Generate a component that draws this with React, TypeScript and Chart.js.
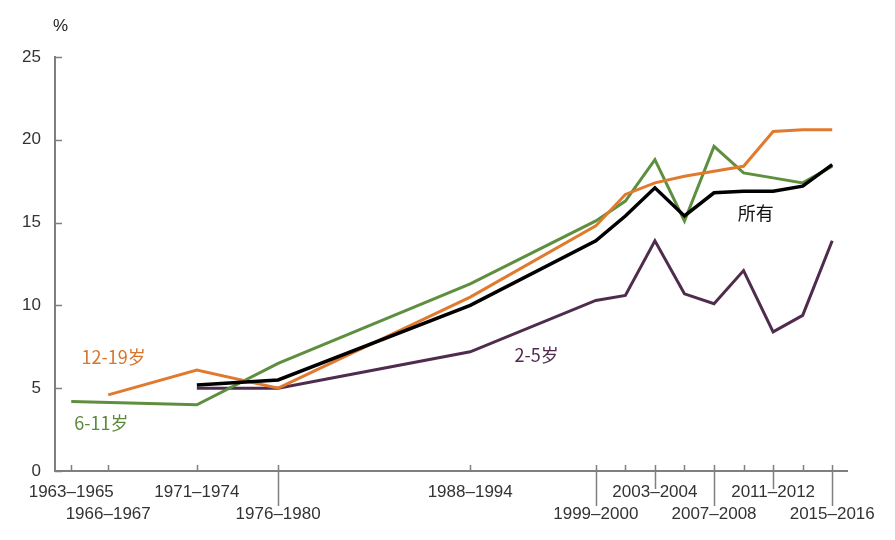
import React, { useEffect, useRef } from "react";
import { Chart, registerables } from "chart.js";

Chart.register(...registerables);

// Survey periods (midpoint year) and labels
const periodMid = [1964, 1966.5, 1972.5, 1978, 1991, 1999.5, 2001.5, 2003.5, 2005.5, 2007.5, 2009.5, 2011.5, 2013.5, 2015.5];
const periodLabels = ["1963–1965", "1966–1967", "1971–1974", "1976–1980", "1988–1994", "1999–2000", "", "2003–2004", "", "2007–2008", "", "2011–2012", "", "2015–2016"];
// 0 = no label, 1 = upper row, 2 = lower row
const labelRow = [1, 2, 1, 2, 1, 2, 0, 1, 0, 2, 0, 1, 0, 2];
// leader line below axis: 0 none, 1 short, 2 long
const leader = [0, 0, 0, 2, 0, 2, 0, 1, 0, 2, 0, 1, 0, 2];

// Series (prevalence of obesity, %)
const allX = [1972.5, 1978, 1991, 1999.5, 2001.5, 2003.5, 2005.5, 2007.5, 2009.5, 2011.5, 2013.5, 2015.5];
const allValues = [5.2, 5.5, 10.0, 13.9, 15.4, 17.1, 15.4, 16.8, 16.9, 16.9, 17.2, 18.5];

const age2to5X = [1972.5, 1978, 1991, 1999.5, 2001.5, 2003.5, 2005.5, 2007.5, 2009.5, 2011.5, 2013.5, 2015.5];
const age2to5Values = [5.0, 5.0, 7.2, 10.3, 10.6, 13.9, 10.7, 10.1, 12.1, 8.4, 9.4, 13.9];

const age6to11X = [1964, 1972.5, 1978, 1991, 1999.5, 2001.5, 2003.5, 2005.5, 2007.5, 2009.5, 2011.5, 2013.5, 2015.5];
const age6to11Values = [4.2, 4.0, 6.5, 11.3, 15.1, 16.3, 18.8, 15.1, 19.6, 18.0, 17.7, 17.4, 18.4];

const age12to19X = [1966.5, 1972.5, 1978, 1991, 1999.5, 2001.5, 2003.5, 2005.5, 2007.5, 2009.5, 2011.5, 2013.5, 2015.5];
const age12to19Values = [4.6, 6.1, 5.0, 10.5, 14.8, 16.7, 17.4, 17.8, 18.1, 18.4, 20.5, 20.6, 20.6];

const yTicks = [0, 5, 10, 15, 20, 25];

// Direct series labels: [text, year, value, color]
const seriesLabels: [string, number, number, string][] = [
  ["12-19岁", 1964.7, 6.9, "#d9742b"],
  ["6-11岁", 1964.2, 2.9, "#5b8a3a"],
  ["2-5岁", 1994.0, 7.0, "#4f2b4d"],
  ["所有", 2009.1, 15.6, "#111111"],
];

const COLORS = {
  all: "#000000",
  a12: "#e07a2e",
  a6: "#5e8f3e",
  a2: "#4f2b4d",
  axis: "#7f7f7f",
  text: "#333333",
};

const toPts = (xs: number[], ys: number[]) => xs.map((x, i) => ({ x, y: ys[i] }));

export default function App() {
  const ref = useRef<HTMLCanvasElement | null>(null);

  useEffect(() => {
    if (!ref.current) return;

    const decor = {
      id: "decor",
      afterDraw(chart: any) {
        const { ctx, chartArea, scales } = chart;
        const xs = scales.x;
        const ys = scales.y;
        ctx.save();
        ctx.strokeStyle = COLORS.axis;
        ctx.lineWidth = 1.5;
        // x ticks (inward) and leader lines
        periodMid.forEach((v, i) => {
          const px = Math.round(xs.getPixelForValue(v)) + 0.5;
          ctx.beginPath();
          ctx.moveTo(px, chartArea.bottom);
          ctx.lineTo(px, chartArea.bottom - 6);
          ctx.stroke();
          const ext = leader[i] === 2 ? 35 : leader[i] === 1 ? 18 : 0;
          if (ext) {
            ctx.beginPath();
            ctx.moveTo(px, chartArea.bottom);
            ctx.lineTo(px, chartArea.bottom + ext);
            ctx.stroke();
          }
        });
        // y ticks (inward)
        yTicks.forEach((v) => {
          const py = Math.round(ys.getPixelForValue(v)) + 0.5;
          ctx.beginPath();
          ctx.moveTo(chartArea.left, py);
          ctx.lineTo(chartArea.left + 7, py);
          ctx.stroke();
        });
        // unit
        ctx.fillStyle = "#222";
        ctx.font = "17px 'Liberation Sans', Arial, sans-serif";
        ctx.textAlign = "left";
        ctx.textBaseline = "middle";
        ctx.fillText("%", chartArea.left - 2, 26);
        // series labels
        ctx.font = "18px 'Noto Sans CJK SC', sans-serif";
        seriesLabels.forEach(([t, x, y, c]) => {
          ctx.fillStyle = c;
          ctx.fillText(t, xs.getPixelForValue(x), ys.getPixelForValue(y));
        });
        ctx.restore();
      },
    };

    const chart = new Chart(ref.current, {
      type: "line",
      data: {
        datasets: [
          { label: "所有", data: toPts(allX, allValues), borderColor: COLORS.all, borderWidth: 3.5 },
          { label: "12-19岁", data: toPts(age12to19X, age12to19Values), borderColor: COLORS.a12, borderWidth: 3 },
          { label: "6-11岁", data: toPts(age6to11X, age6to11Values), borderColor: COLORS.a6, borderWidth: 3 },
          { label: "2-5岁", data: toPts(age2to5X, age2to5Values), borderColor: COLORS.a2, borderWidth: 3 },
        ],
      },
      options: {
        animation: false,
        responsive: false,
        elements: { point: { radius: 0 }, line: { tension: 0, fill: false } },
        layout: { padding: { top: 57, right: 48, left: 0, bottom: 0 } },
        plugins: { legend: { display: false }, tooltip: { enabled: false } },
        scales: {
          x: {
            type: "linear",
            min: 1962.9,
            max: 2016.5,
            afterBuildTicks: (scale: any) => {
              scale.ticks = periodMid.map((v) => ({ value: v }));
            },
            afterFit: (scale: any) => {
              scale.height = 69;
            },
            grid: { display: false, drawTicks: false },
            border: { display: true, color: COLORS.axis, width: 2 },
            ticks: {
              autoSkip: false,
              maxRotation: 0,
              minRotation: 0,
              padding: 10,
              color: COLORS.text,
              font: { family: "'Liberation Sans', Arial, sans-serif", size: 17, lineHeight: 1.3 },
              callback: (_v: any, i: number) => {
                const l = periodLabels[i];
                if (labelRow[i] === 2) return ["", l];
                return l;
              },
            },
          },
          y: {
            min: 0,
            max: 25,
            afterBuildTicks: (scale: any) => {
              scale.ticks = yTicks.map((v) => ({ value: v }));
            },
            afterFit: (scale: any) => {
              scale.width = 55;
            },
            grid: { display: false, drawTicks: false },
            border: { display: true, color: COLORS.axis, width: 2 },
            ticks: {
              padding: 14,
              color: COLORS.text,
              font: { family: "'Liberation Sans', Arial, sans-serif", size: 17 },
            },
          },
        },
      },
      plugins: [decor],
    } as any);

    return () => chart.destroy();
  }, []);

  return (
    <div style={{ position: "fixed", left: 0, top: 0, width: 895, height: 540, background: "#fff" }}>
      <canvas ref={ref} width={895} height={540} style={{ width: 895, height: 540 }} />
    </div>
  );
}
